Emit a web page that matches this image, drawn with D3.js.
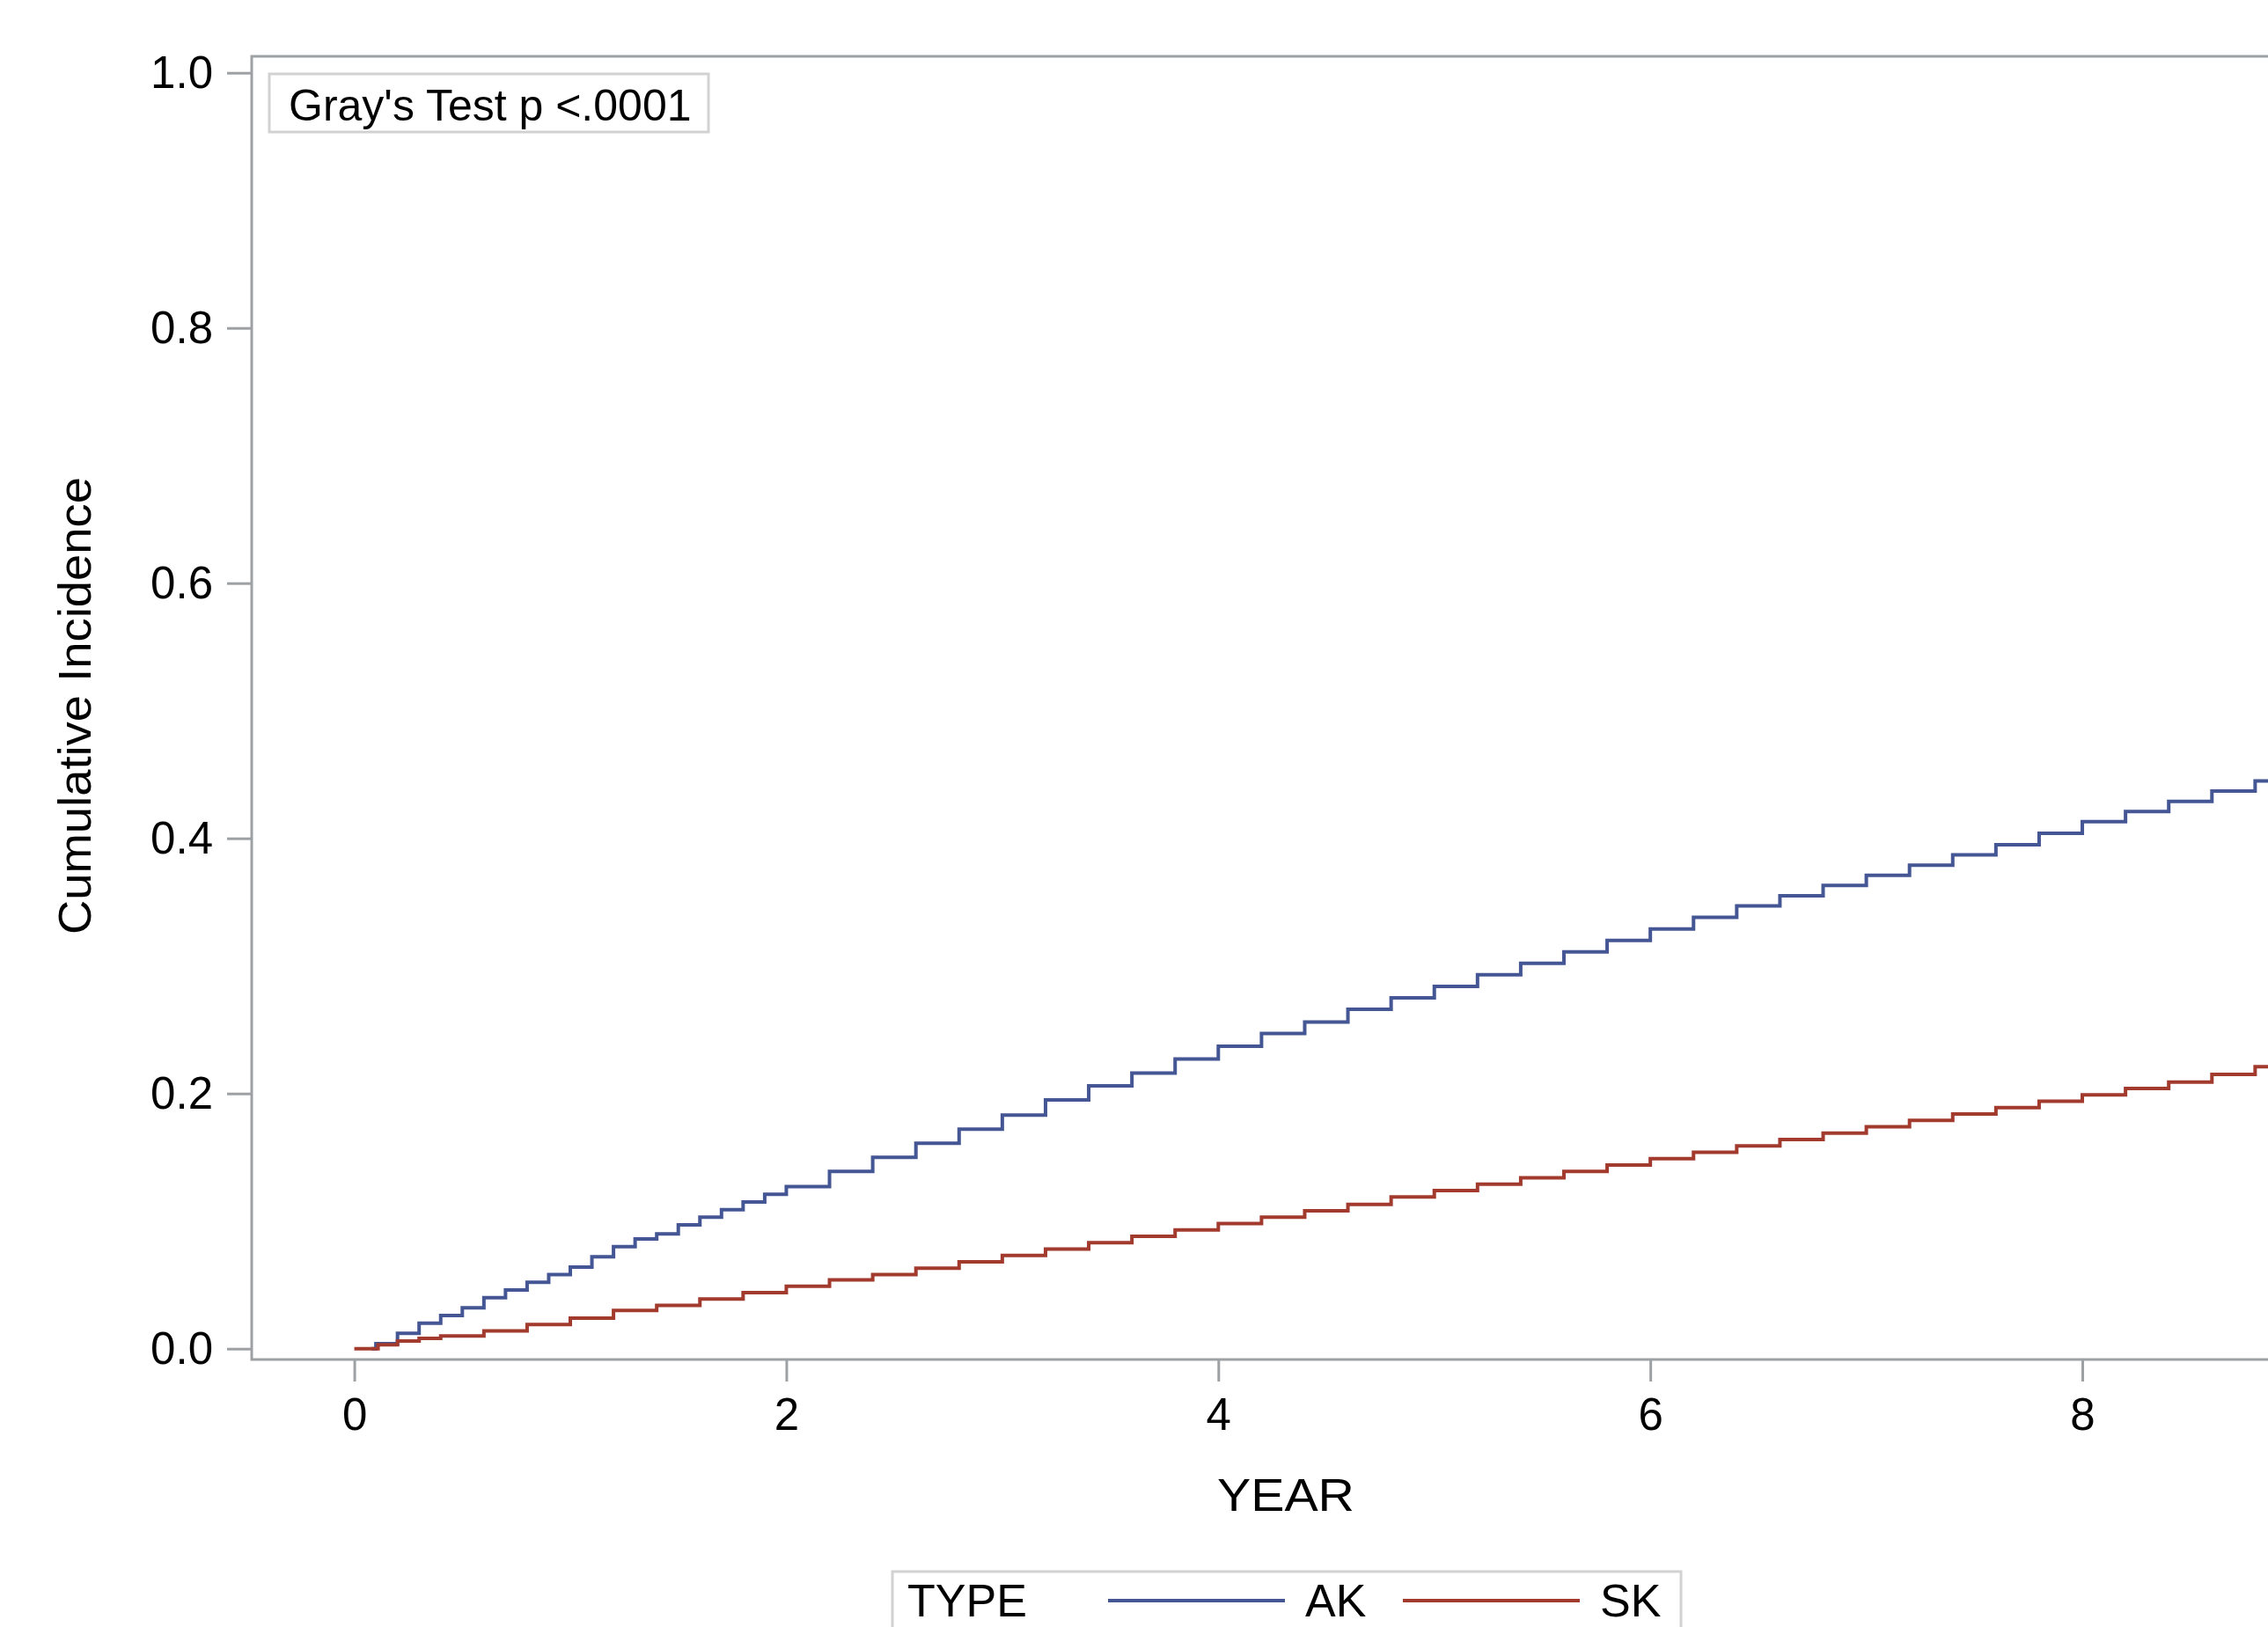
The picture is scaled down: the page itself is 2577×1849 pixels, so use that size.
<!DOCTYPE html>
<html>
<head>
<meta charset="utf-8">
<script src="https://cdn.jsdelivr.net/npm/d3@7"></script>
<style>
  body { margin: 0; background: #fff; }
  text { font-family: "Liberation Sans", Arial, sans-serif; fill: #000; }
</style>
</head>
<body>
<svg id="chart" width="2577" height="1849"></svg>
<script>
// cumulative incidence (YEAR, value)
const akYears = [0, 0.08, 0.1, 0.2, 0.3, 0.4, 0.5, 0.6, 0.7, 0.8, 0.9, 1.0, 1.1, 1.2, 1.3, 1.4, 1.5, 1.6, 1.7, 1.8, 1.9, 2.0,
  2.2, 2.4, 2.6, 2.8, 3.0, 3.2, 3.4, 3.6, 3.8, 4.0, 4.2, 4.4, 4.6, 4.8, 5.0, 5.2, 5.4, 5.6, 5.8, 6.0,
  6.2, 6.4, 6.6, 6.8, 7.0, 7.2, 7.4, 7.6, 7.8, 8.0, 8.2, 8.4, 8.6, 8.8, 9.0];
const akValues = [0, 0, 0.004, 0.012, 0.020, 0.026, 0.032, 0.040, 0.046, 0.052, 0.058, 0.064, 0.072, 0.080, 0.086, 0.090, 0.097, 0.103, 0.109, 0.115, 0.121, 0.127,
  0.139, 0.150, 0.161, 0.172, 0.183, 0.195, 0.206, 0.216, 0.227, 0.237, 0.247, 0.256, 0.266, 0.275, 0.284, 0.293, 0.302, 0.311, 0.320, 0.329,
  0.338, 0.347, 0.355, 0.363, 0.371, 0.379, 0.387, 0.395, 0.404, 0.413, 0.421, 0.429, 0.437, 0.445, 0.452];

const skYears = [0, 0.11, 0.2, 0.3, 0.4, 0.6, 0.8, 1.0, 1.2, 1.4, 1.6, 1.8, 2.0, 2.2, 2.4, 2.6, 2.8, 3.0, 3.2, 3.4, 3.6, 3.8, 4.0,
  4.2, 4.4, 4.6, 4.8, 5.0, 5.2, 5.4, 5.6, 5.8, 6.0, 6.2, 6.4, 6.6, 6.8, 7.0, 7.2, 7.4, 7.6, 7.8, 8.0, 8.2, 8.4, 8.6, 8.8, 9.0];
const skValues = [0, 0.003, 0.006, 0.008, 0.010, 0.014, 0.019, 0.024, 0.030, 0.034, 0.039, 0.044, 0.049, 0.054, 0.058, 0.063, 0.068, 0.073, 0.078, 0.083, 0.088, 0.093, 0.098,
  0.103, 0.108, 0.113, 0.119, 0.124, 0.129, 0.134, 0.139, 0.144, 0.149, 0.154, 0.159, 0.164, 0.169, 0.174, 0.179, 0.184, 0.189, 0.194, 0.199,
  0.204, 0.209, 0.215, 0.221, 0.226];

const types = ["AK", "SK"];
const colors = ["#445694", "#A23A2E"];
const xTicks = [0, 2, 4, 6, 8];
const yTicks = [0, 0.2, 0.4, 0.6, 0.8, 1.0];

const svg = d3.select("#chart");

// plot wall runs past the right edge of the picture
const wall = { left: 286, top: 64, right: 2636, bottom: 1545 };
const gridColor = "#9da1a4";

const x = d3.scaleLinear().domain([-0.475, 9.1]).range([wall.left, wall.right]);
const y = d3.scaleLinear().domain([0, 1]).range([1532.7, 82.7]);

// frame
svg.append("rect")
    .attr("x", wall.left)
    .attr("y", wall.top)
    .attr("width", wall.right - wall.left)
    .attr("height", wall.bottom - wall.top)
    .attr("fill", "none")
    .attr("stroke", gridColor)
    .attr("stroke-width", 3);

// axes
const xAxis = svg.append("g")
    .attr("transform", `translate(0,${wall.bottom})`)
    .call(d3.axisBottom(x).tickValues(xTicks).tickFormat(d3.format("d")).tickSize(25).tickPadding(19));
const yAxis = svg.append("g")
    .attr("transform", `translate(${wall.left},0)`)
    .call(d3.axisLeft(y).tickValues(yTicks).tickFormat(d3.format(".1f")).tickSize(28).tickPadding(16));

[xAxis, yAxis].forEach(ax => {
    ax.select(".domain").remove();
    ax.selectAll("line").attr("stroke", gridColor).attr("stroke-width", 3);
    ax.selectAll("text")
        .style("font-family", '"Liberation Sans", Arial, sans-serif')
        .style("font-size", "51px")
        .attr("fill", "#000");
});

// axis titles
svg.append("text")
    .attr("x", 1461)
    .attr("y", 1717)
    .attr("text-anchor", "middle")
    .attr("textLength", 156)
    .attr("lengthAdjust", "spacingAndGlyphs")
    .style("font-size", "52px")
    .text("YEAR");

svg.append("text")
    .attr("transform", "translate(103,802) rotate(-90)")
    .attr("text-anchor", "middle")
    .attr("textLength", 520)
    .attr("lengthAdjust", "spacingAndGlyphs")
    .style("font-size", "52px")
    .text("Cumulative Incidence");

// step curves
const line = d3.line()
    .x(d => x(d[0]))
    .y(d => y(d[1]))
    .curve(d3.curveStepAfter);

const series = [d3.zip(akYears, akValues).slice(1), d3.zip(skYears, skValues)];

svg.append("g")
    .selectAll("path")
    .data(series)
    .enter()
    .append("path")
    .attr("d", line)
    .attr("fill", "none")
    .attr("stroke", (d, i) => colors[i])
    .attr("stroke-width", 4);

// Gray's test inset
svg.append("rect")
    .attr("x", 306)
    .attr("y", 84)
    .attr("width", 499)
    .attr("height", 66)
    .attr("fill", "#fff")
    .attr("stroke", "#d2d2d2")
    .attr("stroke-width", 3);
svg.append("text")
    .attr("x", 328)
    .attr("y", 137)
    .style("font-size", "50px")
    .text("Gray's Test p <.0001");

// legend
const legend = svg.append("g");
legend.append("rect")
    .attr("x", 1014)
    .attr("y", 1786)
    .attr("width", 896)
    .attr("height", 120)
    .attr("fill", "none")
    .attr("stroke", "#d2d2d2")
    .attr("stroke-width", 3);
legend.append("text")
    .attr("x", 1031)
    .attr("y", 1837)
    .style("font-size", "52px")
    .text("TYPE");

const item = legend.selectAll(".item")
    .data(types)
    .enter()
    .append("g")
    .attr("class", "item")
    .attr("transform", (d, i) => `translate(${1259 + i * 335},0)`);
item.append("line")
    .attr("x1", 0)
    .attr("x2", 201)
    .attr("y1", 1819)
    .attr("y2", 1819)
    .attr("stroke", (d, i) => colors[i])
    .attr("stroke-width", 4);
item.append("text")
    .attr("x", 224)
    .attr("y", 1837)
    .style("font-size", "52px")
    .text(d => d);
</script>
</body>
</html>
